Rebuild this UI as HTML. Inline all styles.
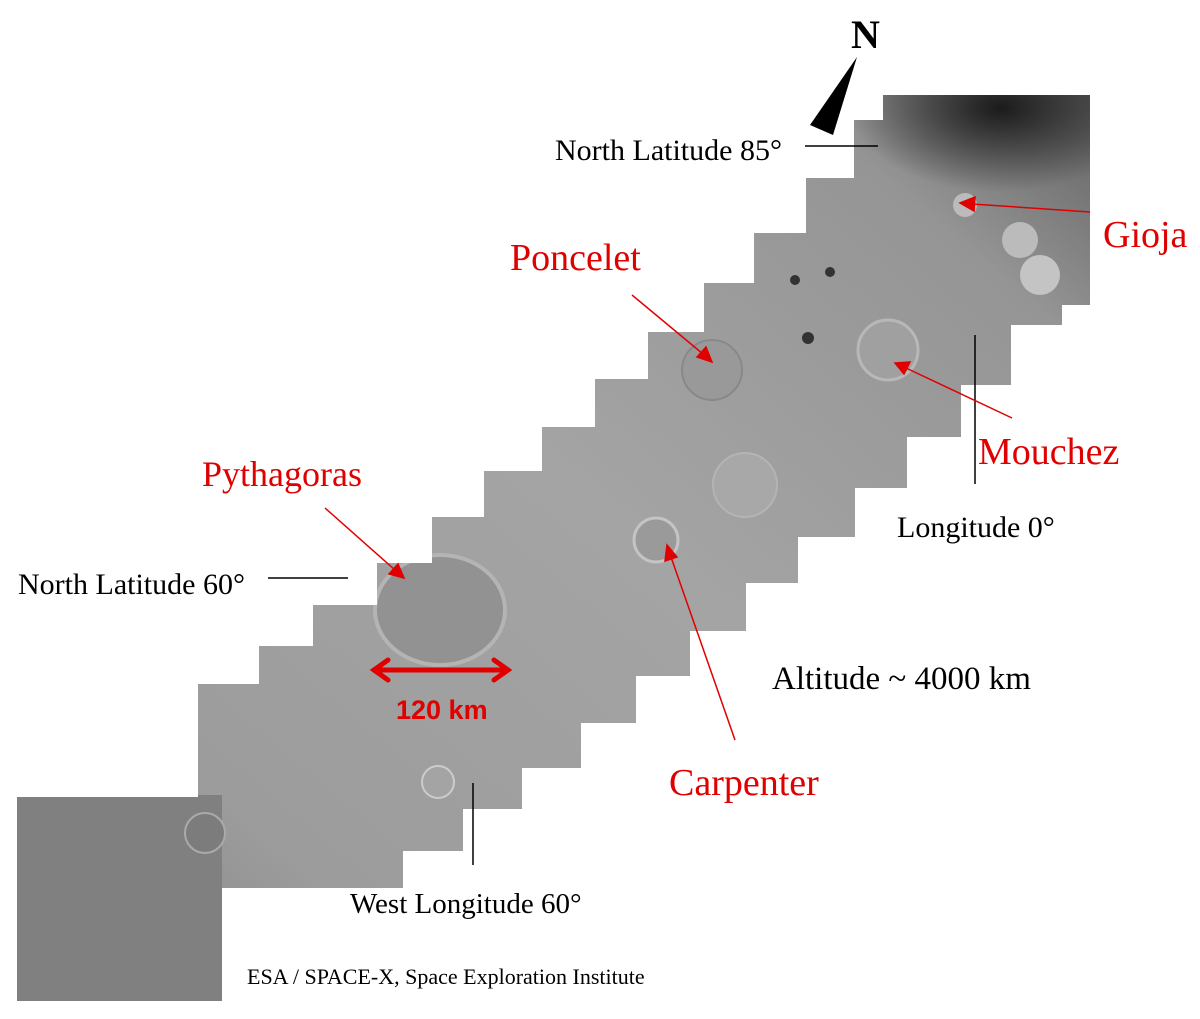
<!DOCTYPE html>
<html><head><meta charset="utf-8"><style>
html,body{margin:0;padding:0;background:#fff;width:1200px;height:1019px;overflow:hidden}
svg{display:block}
</style></head><body>
<svg width="1200" height="1019" viewBox="0 0 1200 1019" xmlns="http://www.w3.org/2000/svg">
<defs>
<linearGradient id="g" x1="1" y1="0" x2="0" y2="1">
<stop offset="0" stop-color="#2a2a2a"/>
<stop offset="0.1" stop-color="#666"/>
<stop offset="0.22" stop-color="#959595"/>
<stop offset="0.5" stop-color="#a4a4a4"/>
<stop offset="0.8" stop-color="#9c9c9c"/>
<stop offset="1" stop-color="#7a7a7a"/>
</linearGradient>
<radialGradient id="d" cx="0.6" cy="0.2" r="0.6">
<stop offset="0" stop-color="#111" stop-opacity="0.9"/>
<stop offset="1" stop-color="#111" stop-opacity="0"/>
</radialGradient>
<clipPath id="c"><polygon points="883,95 1090,95 1090,305 1062,305 1062,325 1011,325 1011,385 961,385 961,437 907,437 907,488 855,488 855,537 798,537 798,583 746,583 746,631 690,631 690,676 636,676 636,723 581,723 581,768 522,768 522,809 463,809 463,851 403,851 403,888 222,888 222,1001 17,1001 17,797 198,797 198,684 259,684 259,646 313,646 313,605 377,605 377,563 432,563 432,517 484,517 484,471 542,471 542,427 595,427 595,379 648,379 648,332 704,332 704,283 754,283 754,233 806,233 806,178 854,178 854,120 883,120"/></clipPath>
</defs>
<g clip-path="url(#c)">
<rect x="0" y="0" width="1200" height="1019" fill="url(#g)"/>
<rect x="850" y="80" width="250" height="140" fill="url(#d)"/>
<rect x="0" y="795" width="222" height="210" fill="#808080"/>
<circle cx="1020" cy="240" r="18" fill="#bbb"/>
<circle cx="1040" cy="275" r="20" fill="#c4c4c4"/>
<circle cx="965" cy="205" r="12" fill="#bbb"/>
<circle cx="888" cy="350" r="30" fill="#a0a0a0" stroke="#b8b8b8" stroke-width="3"/>
<circle cx="712" cy="370" r="30" fill="#999" stroke="#888" stroke-width="2"/>
<circle cx="745" cy="485" r="32" fill="#a8a8a8" stroke="#b4b4b4" stroke-width="2"/>
<circle cx="656" cy="540" r="22" fill="#9a9a9a" stroke="#c4c4c4" stroke-width="3"/>
<ellipse cx="440" cy="610" rx="65" ry="55" fill="#929292" stroke="#b4b4b4" stroke-width="4"/>
<circle cx="438" cy="782" r="16" fill="#a4a4a4" stroke="#ccc" stroke-width="2"/>
<circle cx="205" cy="833" r="20" fill="#7c7c7c" stroke="#aaa" stroke-width="2"/>
<circle cx="830" cy="272" r="5" fill="#333"/>
<circle cx="808" cy="338" r="6" fill="#333"/>
<circle cx="795" cy="280" r="5" fill="#333"/>
</g>
<text x="851" y="48" font-family="Liberation Serif, serif" font-weight="bold" font-size="40">N</text>
<polygon points="857,57 810,125 833,135" fill="#000"/>
<g stroke="#000" stroke-width="1.5">
<line x1="805" y1="146" x2="878" y2="146"/>
<line x1="268" y1="578" x2="348" y2="578"/>
<line x1="975" y1="335" x2="975" y2="484"/>
<line x1="473" y1="783" x2="473" y2="865"/>
</g>
<g font-family="Liberation Serif, serif" fill="#000">
<text x="555" y="160" font-size="30">North Latitude 85°</text>
<text x="897" y="537" font-size="30">Longitude 0°</text>
<text x="18" y="594" font-size="30">North Latitude 60°</text>
<text x="772" y="689" font-size="33">Altitude ~ 4000 km</text>
<text x="350" y="913" font-size="29">West Longitude 60°</text>
<text x="247" y="984" font-size="22">ESA / SPACE-X, Space Exploration Institute</text>
</g>
<g font-family="Liberation Serif, serif" font-size="38" fill="#e00000">
<text x="510" y="270">Poncelet</text>
<text x="1103" y="247">Gioja</text>
<text x="978" y="464">Mouchez</text>
<text x="202" y="486" font-size="36">Pythagoras</text>
<text x="669" y="795">Carpenter</text>
</g>
<g stroke="#e00000" stroke-width="1.5" fill="#e00000">
<line x1="1090" y1="212" x2="972" y2="204"/><polygon points="960,203 975,197 974,211"/>
<line x1="632" y1="295" x2="703" y2="354"/><polygon points="712,362 697,357 706,347"/>
<line x1="1012" y1="418" x2="906" y2="368"/><polygon points="895,363 910,362 904,374"/>
<line x1="325" y1="508" x2="395" y2="570"/><polygon points="404,578 389,574 398,564"/>
<line x1="735" y1="740" x2="671" y2="557"/><polygon points="667,545 677,557 665,561"/>
</g>
<g stroke="#e00000" stroke-width="5" fill="none" stroke-linecap="round">
<line x1="374" y1="670" x2="508" y2="670"/>
<polyline points="388,660 374,670 388,680"/>
<polyline points="494,660 508,670 494,680"/>
</g>
<text x="396" y="719" font-family="Liberation Sans, sans-serif" font-weight="bold" font-size="27" fill="#e00000">120 km</text>
</svg>
</body></html>
